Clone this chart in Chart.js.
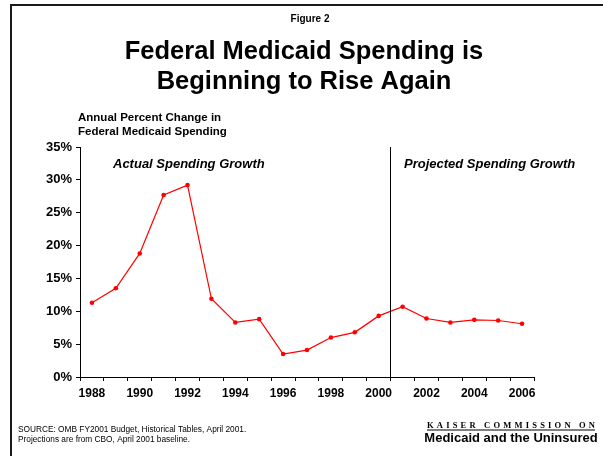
<!DOCTYPE html>
<html>
<head>
<meta charset="utf-8">
<title>Federal Medicaid Spending is Beginning to Rise Again</title>
<script src="https://cdn.jsdelivr.net/npm/chart.js@4/dist/chart.umd.min.js"></script>
<style>
  html, body { margin: 0; padding: 0; background: #ffffff; }
  #wrap { width: 603px; height: 456px; }
</style>
</head>
<body>
<div id="wrap"><canvas id="chart" width="603" height="456"></canvas></div>
<script>
// Fiscal years and annual percent change in federal Medicaid spending
const years = ['1988','1989','1990','1991','1992','1993','1994','1995','1996','1997',
               '1998','1999','2000','2001','2002','2003','2004','2005','2006'];
const growthPct = [11.3, 13.5, 18.8, 27.7, 29.2, 11.9, 8.3, 8.8, 3.5, 4.1,
                   6.0, 6.8, 9.3, 10.7, 8.9, 8.3, 8.7, 8.6, 8.1];
// Last year of actual data; later years are projections
const lastActualYear = '2000';
// Value axis range and step (percent)
const yMin = 0, yMax = 35, yStep = 5;

const figureLabel = 'Figure 2';
const titleLines = ['Federal Medicaid Spending is', 'Beginning to Rise Again'];
const axisTitleLines = ['Annual Percent Change in', 'Federal Medicaid Spending'];
const actualLabel = 'Actual Spending Growth';
const projectedLabel = 'Projected Spending Growth';
const sourceLines = ['SOURCE: OMB FY2001 Budget, Historical Tables, April 2001.',
                     'Projections are from CBO, April 2001 baseline.'];
const brandTop = 'KAISER COMMISSION ON';
const brandBottom = 'Medicaid and the Uninsured';

const SANS = '"Liberation Sans", Arial, Helvetica, sans-serif';
const SERIF = '"Liberation Serif", "Times New Roman", serif';

// Page furniture: frame, headings, annotations, source and brand
const slidePlugin = {
  id: 'slide',
  beforeDraw(chart) {
    const ctx = chart.ctx;
    ctx.save();
    ctx.fillStyle = '#ffffff';
    ctx.fillRect(0, 0, chart.width, chart.height);
    ctx.restore();
  },
  afterDatasetsDraw(chart) {
    const ctx = chart.ctx;
    const xs = chart.scales.x;
    const area = chart.chartArea;
    // divider between actual and projected years
    const i = years.indexOf(lastActualYear);
    const xDiv = Math.round((xs.getPixelForValue(i) + xs.getPixelForValue(i + 1)) / 2) - 0.5;
    ctx.save();
    ctx.strokeStyle = '#000000';
    ctx.lineWidth = 1;
    ctx.beginPath();
    ctx.moveTo(xDiv, area.top);
    ctx.lineTo(xDiv, area.bottom);
    ctx.stroke();
    ctx.restore();
  },
  afterDraw(chart) {
    const ctx = chart.ctx;
    const W = chart.width;
    ctx.save();
    // frame
    ctx.fillStyle = '#1a1a1a';
    ctx.fillRect(11, 4, W - 11, 2);
    ctx.fillRect(10, 4, 2, chart.height - 4);

    ctx.fillStyle = '#000000';
    ctx.textBaseline = 'alphabetic';

    ctx.textAlign = 'center';
    ctx.font = 'bold 10px ' + SANS;
    ctx.fillText(figureLabel, 310, 22);

    ctx.font = 'bold 25.5px ' + SANS;
    ctx.fillText(titleLines[0], 304, 59);
    ctx.fillText(titleLines[1], 304, 89);

    ctx.textAlign = 'left';
    ctx.font = 'bold 11.5px ' + SANS;
    ctx.fillText(axisTitleLines[0], 78, 121);
    ctx.fillText(axisTitleLines[1], 78, 135);

    ctx.font = 'italic bold 13px ' + SANS;
    ctx.fillText(actualLabel, 113, 168);
    ctx.fillText(projectedLabel, 404, 168);

    ctx.font = '8.3px ' + SANS;
    ctx.fillText(sourceLines[0], 18, 432);
    ctx.fillText(sourceLines[1], 18, 442);

    // brand block
    const cx = 511;
    ctx.font = 'bold 8.5px ' + SERIF;
    ctx.letterSpacing = '3.2px';
    const wTop = ctx.measureText(brandTop).width - 3.2;
    const x0 = cx - wTop / 2;
    ctx.fillText(brandTop, x0, 428);
    ctx.letterSpacing = '0px';
    ctx.fillRect(x0, 429.5, wTop, 1);
    ctx.textAlign = 'center';
    ctx.font = 'bold 13px ' + SANS;
    ctx.fillText(brandBottom, cx, 442);
    ctx.restore();
  }
};

new Chart(document.getElementById('chart'), {
  type: 'line',
  data: {
    labels: years,
    datasets: [{
      data: growthPct,
      borderColor: '#ff0000',
      backgroundColor: '#ff0000',
      borderWidth: 1.2,
      pointRadius: 2.3,
      pointHoverRadius: 2.3,
      pointStyle: 'circle',
      pointBorderWidth: 0,
      tension: 0,
      fill: false
    }]
  },
  options: {
    responsive: false,
    animation: false,
    devicePixelRatio: 1,
    layout: { padding: { left: 0, right: 69, top: 147, bottom: 0 } },
    plugins: {
      legend: { display: false },
      title: { display: false },
      tooltip: { enabled: false }
    },
    scales: {
      x: {
        type: 'category',
        offset: true,
        afterFit(scale) { scale.height = 79; },
        border: { display: true, color: '#000000', width: 1 },
        grid: {
          offset: true,
          drawOnChartArea: false,
          drawTicks: true,
          tickLength: 4,
          color: '#000000'
        },
        ticks: {
          autoSkip: false,
          maxRotation: 0,
          padding: 5,
          color: '#000000',
          font: { family: SANS, size: 12, weight: 'bold' },
          callback(value, index) { return index % 2 === 0 ? years[index] : ''; }
        }
      },
      y: {
        min: yMin,
        max: yMax,
        afterFit(scale) { scale.width = 80; },
        border: { display: true, color: '#000000', width: 1 },
        grid: {
          drawOnChartArea: false,
          drawTicks: true,
          tickLength: 4,
          color: '#000000'
        },
        ticks: {
          stepSize: yStep,
          padding: 4,
          color: '#000000',
          font: { family: SANS, size: 13, weight: 'bold' },
          callback(value) { return value + '%'; }
        }
      }
    }
  },
  plugins: [slidePlugin]
});
</script>
</body>
</html>
